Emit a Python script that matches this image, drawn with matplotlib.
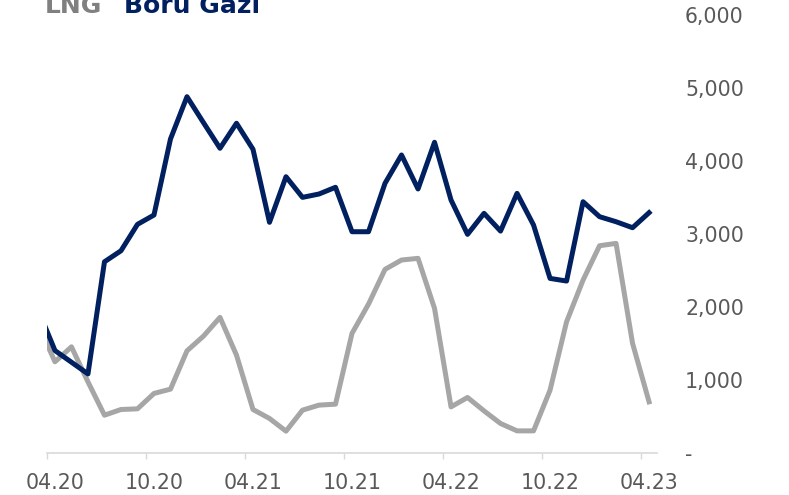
import matplotlib
matplotlib.use("Agg")
import matplotlib.pyplot as plt
from matplotlib.ticker import FixedLocator, FuncFormatter

plt.rcParams.update({
    "font.family": "DejaVu Sans",
    "figure.dpi": 100,
})

NAVY = "#002060"
GRAY = "#A6A6A6"
TXT = "#595959"
AXIS = "#D9D9D9"

# aylık veri: 03.20 .. 04.23 (ilk ay eksenin solunda kalıyor)
months = ["03.20", "04.20", "05.20", "06.20", "07.20", "08.20", "09.20", "10.20",
          "11.20", "12.20", "01.21", "02.21", "03.21", "04.21", "05.21", "06.21",
          "07.21", "08.21", "09.21", "10.21", "11.21", "12.21", "01.22", "02.22",
          "03.22", "04.22", "05.22", "06.22", "07.22", "08.22", "09.22", "10.22",
          "11.22", "12.22", "01.23", "02.23", "03.23", "04.23"]
boru_gazi = [1950, 1400, 1240, 1080, 2617, 2768, 3130, 3258, 4300, 4880,
             4524, 4173, 4516, 4159, 3158, 3783, 3500, 3546, 3638, 3029,
             3029, 3693, 4081, 3615, 4255, 3464, 2993, 3281, 3038, 3555,
             3121, 2389, 2353, 3440, 3235, 3166, 3084, 3290]
lng = [1750, 1246, 1451, 971, 514, 592, 601, 812, 871, 1396,
       1598, 1855, 1337, 592, 469, 295, 583, 652, 665, 1635,
       2037, 2513, 2641, 2664, 1978, 628, 757, 573, 400, 299,
       299, 857, 1794, 2366, 2837, 2869, 1498, 697]
y_ticks = [0, 1000, 2000, 3000, 4000, 5000, 6000]

x = [i - 1 for i in range(len(months))]

fig = plt.figure(figsize=(7.89, 4.95))
ax = fig.add_axes([0.0592, 0.0855, 0.8331 - 0.0592, 0.9697 - 0.0855])

ax.plot(x, lng, color=GRAY, lw=3.6, solid_joinstyle="round")
ax.plot(x, boru_gazi, color=NAVY, lw=3.6, solid_joinstyle="round")

ax.set_xlim(-0.5, 36.5)
ax.set_ylim(0, 6000)

# x ekseni: çizgiler kategoriler arasında, etiketler kategorilerde
ax.xaxis.set_major_locator(FixedLocator([p - 0.5 for p in range(0, 37, 6)]))
ax.xaxis.set_major_formatter(FuncFormatter(lambda v, p: ""))
ax.xaxis.set_minor_locator(FixedLocator(list(range(0, 37, 6))))
ax.xaxis.set_minor_formatter(FuncFormatter(lambda v, p: months[int(round(v)) + 1]))
ax.tick_params(axis="x", which="major", length=4, width=1, color=AXIS, direction="out")
ax.tick_params(axis="x", which="minor", length=0, pad=14.5, labelsize=14.8, labelcolor=TXT)

ax.yaxis.tick_right()
ax.set_yticks(y_ticks)
ax.yaxis.set_major_formatter(FuncFormatter(lambda v, p: "-" if v == 0 else f"{v:,.0f}"))
ax.tick_params(axis="y", length=0, pad=20, labelsize=14.8, labelcolor=TXT)

for s in ("top", "left", "right"):
    ax.spines[s].set_visible(False)
ax.spines["bottom"].set_color(AXIS)
ax.spines["bottom"].set_linewidth(1.2)

# lejant (renkli metin, üstten kesik)
fig.text(45 / 789, 1 - 13 / 495, "LNG", color="#808080", fontsize=18,
         fontweight="bold", va="baseline", ha="left")
fig.text(124 / 789, 1 - 13 / 495, "Boru Gazi", color=NAVY, fontsize=18,
         fontweight="bold", va="baseline", ha="left")

fig.savefig("out.png", dpi=100)
